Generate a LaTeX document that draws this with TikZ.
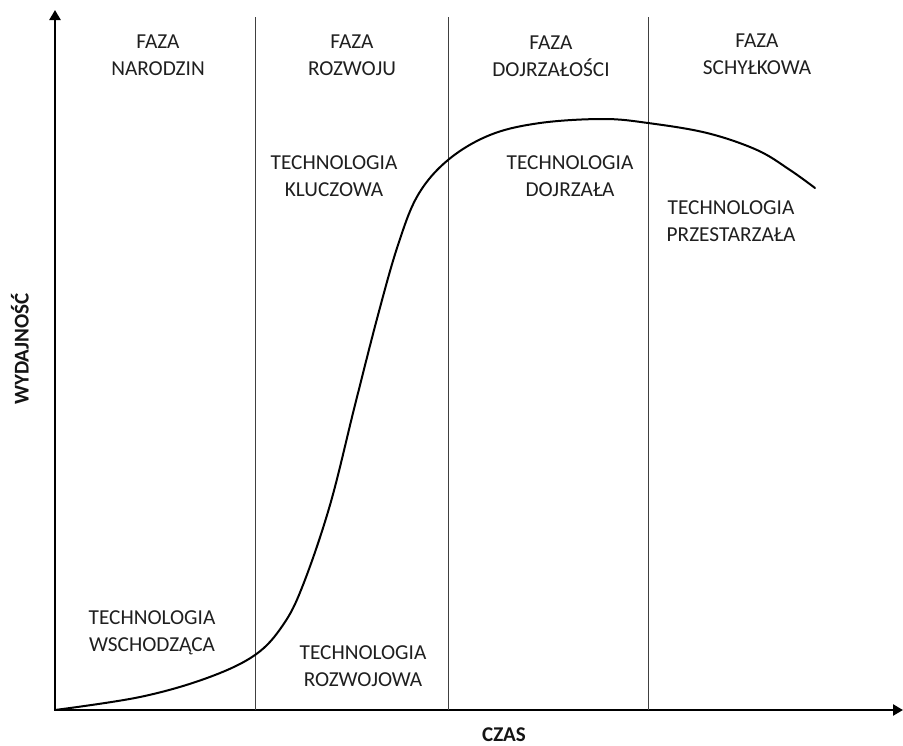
\documentclass[tikz,border=0pt]{standalone}
\usepackage{fontspec}
\setmainfont{Carlito}
\usetikzlibrary{arrows.meta}
\tikzset{
  lbl/.style={align=center, inner sep=0pt, text=black!88, font=\fontsize{21.3}{27}\selectfont},
  axislbl/.style={inner sep=0pt, text=black!92, font=\fontsize{21}{27}\selectfont\bfseries},
  axisline/.style={line width=2.4pt, -{Triangle[length=10pt,width=11pt]}},
  phaseline/.style={line width=0.9pt, black!75},
  curveline/.style={line width=2pt, line join=round, line cap=round}
}
\begin{document}
\begin{tikzpicture}[x=1pt,y=-1pt]
\useasboundingbox (0,0) rectangle (903,745);
% axes
\coordinate (O) at (55,710);
\coordinate (Ytop) at (55,10);
\coordinate (Xend) at (903,710);
\draw[axisline] (O) -- (Ytop);
\draw[axisline] ([xshift=-1.2pt]O) -- (Xend);
% phase separators
\foreach \n/\x in {a/255,b/448,c/648}{
  \coordinate (\n top) at (\x,17);
  \coordinate (\n bot) at (\x,710);
  \draw[phaseline] (\n top) -- (\n bot);
}
% curve
\draw[curveline] plot[smooth, tension=0.6] coordinates {
 (55,710) (140,697) (207,678) (255,655) (283,625) (303,585)
 (330,505) (355,405) (378,315) (398,245) (418,195) (448,160)
 (490,135) (540,123) (603,119) (648,123) (707,133) (757,150) (790,170) (815,188)};
% phase labels
\node[lbl] (f1) at (158,55.5) {FAZA\\NARODZIN};
\node[lbl] (f2) at (352,55.5) {FAZA\\ROZWOJU};
\node[lbl] (f3) at (551,56.5) {FAZA\\DOJRZAŁOŚCI};
\node[lbl] (f4) at (757,54.5) {FAZA\\SCHYŁKOWA};
% technology labels
\node[lbl] (t1) at (152,633) {TECHNOLOGIA\\WSCHODZĄCA};
\node[lbl] (t2) at (363,666) {TECHNOLOGIA\\ROZWOJOWA};
\node[lbl] (t3) at (334,176.5) {TECHNOLOGIA\\KLUCZOWA};
\node[lbl] (t4) at (570,176.5) {TECHNOLOGIA\\DOJRZAŁA};
\node[lbl] (t5) at (731,221.5) {TECHNOLOGIA\\PRZESTARZAŁA};
% axis labels
\node[axislbl, anchor=base] (xl) at (504,741.5) {CZAS};
\node[axislbl, anchor=base, rotate=90] (yl) at (28.5,349) {WYDAJNOŚĆ};
\end{tikzpicture}
\end{document}
